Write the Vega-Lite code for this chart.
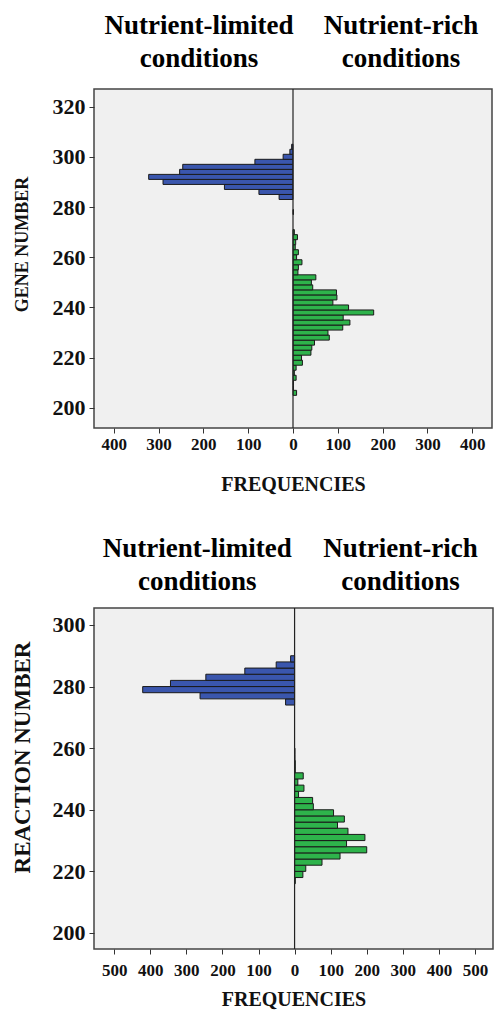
{
  "$schema": "https://vega.github.io/schema/vega-lite/v6.json",
  "padding": {"left": 10, "top": 10, "right": 3, "bottom": 2},
  "background": "white",
  "spacing": 38,
  "config": {
    "font": "Liberation Serif",
    "view": {"fill": "#f0f0f0", "stroke": "#444", "strokeWidth": 1.5},
    "axis": {
      "labelFont": "Liberation Serif", "labelFontWeight": "bold", "labelColor": "#111",
      "titleFont": "Liberation Serif", "titleFontWeight": "bold", "titleColor": "#111",
      "tickColor": "#333", "tickSize": 5, "domain": false, "grid": false,
      "labelFlush": false, "labelOverlap": false, "labelLimit": 0
    }
  },
  "datasets": {
    "gene": [
      {"cond": "limited", "lo": 283, "hi": 285, "freq": -31},
      {"cond": "limited", "lo": 285, "hi": 287, "freq": -76},
      {"cond": "limited", "lo": 287, "hi": 289, "freq": -153},
      {"cond": "limited", "lo": 289, "hi": 291, "freq": -290},
      {"cond": "limited", "lo": 291, "hi": 293, "freq": -322},
      {"cond": "limited", "lo": 293, "hi": 295, "freq": -253},
      {"cond": "limited", "lo": 295, "hi": 297, "freq": -246},
      {"cond": "limited", "lo": 297, "hi": 299, "freq": -85},
      {"cond": "limited", "lo": 299, "hi": 301, "freq": -22},
      {"cond": "limited", "lo": 301, "hi": 303, "freq": -7},
      {"cond": "limited", "lo": 303, "hi": 305, "freq": -3},
      {"cond": "rich", "lo": 205, "hi": 207, "freq": 8},
      {"cond": "rich", "lo": 207, "hi": 209, "freq": 1},
      {"cond": "rich", "lo": 209, "hi": 211, "freq": 1},
      {"cond": "rich", "lo": 211, "hi": 213, "freq": 7},
      {"cond": "rich", "lo": 213, "hi": 215, "freq": 3},
      {"cond": "rich", "lo": 215, "hi": 217, "freq": 7},
      {"cond": "rich", "lo": 217, "hi": 219, "freq": 21},
      {"cond": "rich", "lo": 219, "hi": 221, "freq": 19},
      {"cond": "rich", "lo": 221, "hi": 223, "freq": 40},
      {"cond": "rich", "lo": 223, "hi": 225, "freq": 42},
      {"cond": "rich", "lo": 225, "hi": 227, "freq": 48},
      {"cond": "rich", "lo": 227, "hi": 229, "freq": 81},
      {"cond": "rich", "lo": 229, "hi": 231, "freq": 78},
      {"cond": "rich", "lo": 231, "hi": 233, "freq": 111},
      {"cond": "rich", "lo": 233, "hi": 235, "freq": 127},
      {"cond": "rich", "lo": 235, "hi": 237, "freq": 112},
      {"cond": "rich", "lo": 237, "hi": 239, "freq": 180},
      {"cond": "rich", "lo": 239, "hi": 241, "freq": 124},
      {"cond": "rich", "lo": 241, "hi": 243, "freq": 89},
      {"cond": "rich", "lo": 243, "hi": 245, "freq": 98},
      {"cond": "rich", "lo": 245, "hi": 247, "freq": 97},
      {"cond": "rich", "lo": 247, "hi": 249, "freq": 44},
      {"cond": "rich", "lo": 249, "hi": 251, "freq": 41},
      {"cond": "rich", "lo": 251, "hi": 253, "freq": 51},
      {"cond": "rich", "lo": 253, "hi": 255, "freq": 11},
      {"cond": "rich", "lo": 255, "hi": 257, "freq": 12},
      {"cond": "rich", "lo": 257, "hi": 259, "freq": 20},
      {"cond": "rich", "lo": 259, "hi": 261, "freq": 8},
      {"cond": "rich", "lo": 261, "hi": 263, "freq": 12},
      {"cond": "rich", "lo": 263, "hi": 265, "freq": 5},
      {"cond": "rich", "lo": 265, "hi": 267, "freq": 6},
      {"cond": "rich", "lo": 267, "hi": 269, "freq": 10},
      {"cond": "rich", "lo": 269, "hi": 271, "freq": 3},
      {"cond": "rich", "lo": 277, "hi": 279, "freq": 1}
    ],
    "reaction": [
      {"cond": "limited", "lo": 274, "hi": 276, "freq": -25},
      {"cond": "limited", "lo": 276, "hi": 278, "freq": -262},
      {"cond": "limited", "lo": 278, "hi": 280, "freq": -421},
      {"cond": "limited", "lo": 280, "hi": 282, "freq": -344},
      {"cond": "limited", "lo": 282, "hi": 284, "freq": -246},
      {"cond": "limited", "lo": 284, "hi": 286, "freq": -138},
      {"cond": "limited", "lo": 286, "hi": 288, "freq": -51},
      {"cond": "limited", "lo": 288, "hi": 290, "freq": -11},
      {"cond": "rich", "lo": 216, "hi": 218, "freq": 2},
      {"cond": "rich", "lo": 218, "hi": 220, "freq": 23},
      {"cond": "rich", "lo": 220, "hi": 222, "freq": 31},
      {"cond": "rich", "lo": 222, "hi": 224, "freq": 76},
      {"cond": "rich", "lo": 224, "hi": 226, "freq": 126},
      {"cond": "rich", "lo": 226, "hi": 228, "freq": 200},
      {"cond": "rich", "lo": 228, "hi": 230, "freq": 144},
      {"cond": "rich", "lo": 230, "hi": 232, "freq": 195},
      {"cond": "rich", "lo": 232, "hi": 234, "freq": 148},
      {"cond": "rich", "lo": 234, "hi": 236, "freq": 119},
      {"cond": "rich", "lo": 236, "hi": 238, "freq": 138},
      {"cond": "rich", "lo": 238, "hi": 240, "freq": 108},
      {"cond": "rich", "lo": 240, "hi": 242, "freq": 52},
      {"cond": "rich", "lo": 242, "hi": 244, "freq": 50},
      {"cond": "rich", "lo": 244, "hi": 246, "freq": 11},
      {"cond": "rich", "lo": 246, "hi": 248, "freq": 26},
      {"cond": "rich", "lo": 248, "hi": 250, "freq": 9},
      {"cond": "rich", "lo": 250, "hi": 252, "freq": 24},
      {"cond": "rich", "lo": 252, "hi": 254, "freq": 2},
      {"cond": "rich", "lo": 254, "hi": 256, "freq": 2},
      {"cond": "rich", "lo": 256, "hi": 258, "freq": 1},
      {"cond": "rich", "lo": 258, "hi": 260, "freq": 1}
    ]
  },
  "vconcat": [
    {
      "width": 398,
      "height": 339,
      "layer": [
        {
          "data": {"name": "gene"},
          "mark": {"type": "rect", "stroke": "#1a1a1a", "strokeWidth": 1},
          "encoding": {
            "y": {"field": "lo", "type": "quantitative",
              "scale": {"domain": [192, 327], "nice": false, "zero": false},
              "axis": {"values": [200, 220, 240, 260, 280, 300, 320], "title": "GENE NUMBER",
                "labelFontSize": 22, "labelPadding": 4, "titleFontSize": 18, "titlePadding": 21, "titleY": 155}},
            "y2": {"field": "hi"},
            "x": {"field": "freq", "type": "quantitative",
              "scale": {"domain": [-444, 444], "nice": false},
              "axis": {"orient": "bottom", "values": [-400, -300, -200, -100, 0, 100, 200, 300, 400],
                "labelExpr": "abs(datum.value)", "title": "FREQUENCIES",
                "labelFontSize": 17, "labelPadding": 3, "titleFontSize": 20, "titlePadding": 22}},
            "x2": {"datum": 0},
            "color": {"field": "cond", "type": "nominal",
              "scale": {"domain": ["limited", "rich"], "range": ["#3a56ad", "#2eb34b"]}, "legend": null}
          }
        },
        {
          "data": {"values": [{}]},
          "mark": {"type": "rule", "color": "#222", "strokeWidth": 1.2},
          "encoding": {
            "x": {"datum": 0, "type": "quantitative",
              "axis": {"orient": "top", "values": [-211, 240],
                "labelExpr": "datum.value < 0 ? ['Nutrient-limited', 'conditions'] : ['Nutrient-rich', 'conditions']",
                "ticks": false, "title": null, "labelFontSize": 27, "labelPadding": 50,
                "labelLineHeight": 33, "labelColor": "#000", "labelBaseline": "bottom"}}
          }
        }
      ],
      "resolve": {"axis": {"x": "independent"}}
    },
    {
      "width": 399,
      "height": 341,
      "layer": [
        {
          "data": {"name": "reaction"},
          "mark": {"type": "rect", "stroke": "#1a1a1a", "strokeWidth": 1},
          "encoding": {
            "y": {"field": "lo", "type": "quantitative",
              "scale": {"domain": [194.8, 305.5], "nice": false, "zero": false},
              "axis": {"values": [200, 220, 240, 260, 280, 300], "title": "REACTION NUMBER",
                "labelFontSize": 22, "labelPadding": 4, "titleFontSize": 23, "titlePadding": 18, "titleY": 149}},
            "y2": {"field": "hi"},
            "x": {"field": "freq", "type": "quantitative",
              "scale": {"domain": [-556, 550], "nice": false},
              "axis": {"orient": "bottom", "values": [-500, -400, -300, -200, -100, 0, 100, 200, 300, 400, 500],
                "labelExpr": "abs(datum.value)", "title": "FREQUENCIES",
                "labelFontSize": 17, "labelPadding": 8, "titleFontSize": 20, "titlePadding": 11}},
            "x2": {"datum": 0},
            "color": {"field": "cond", "type": "nominal",
              "scale": {"domain": ["limited", "rich"], "range": ["#3a56ad", "#2eb34b"]}, "legend": null}
          }
        },
        {
          "data": {"values": [{}]},
          "mark": {"type": "rule", "color": "#222", "strokeWidth": 1.2},
          "encoding": {
            "x": {"datum": 0, "type": "quantitative",
              "axis": {"orient": "top", "values": [-271, 292],
                "labelExpr": "datum.value < 0 ? ['Nutrient-limited', 'conditions'] : ['Nutrient-rich', 'conditions']",
                "ticks": false, "title": null, "labelFontSize": 27, "labelPadding": 46,
                "labelLineHeight": 33, "labelColor": "#000", "labelBaseline": "bottom"}}
          }
        }
      ],
      "resolve": {"axis": {"x": "independent"}}
    }
  ]
}
